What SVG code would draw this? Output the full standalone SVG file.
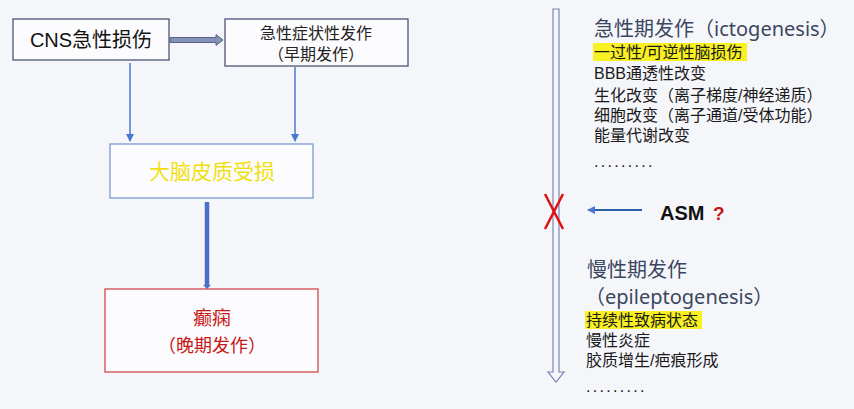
<svg xmlns="http://www.w3.org/2000/svg" width="854" height="409" viewBox="0 0 854 409">
<style>
text{font-family:"Liberation Sans","Noto Sans CJK SC",sans-serif}
.box{fill:#fcfcfe;stroke:#4a5578;stroke-width:1.3}
.blue{stroke:#4a78d0;stroke-width:1.5;fill:none}
.t{font-size:16px;fill:#1a1a1a}
.h{font-family:"Noto Sans","Noto Sans CJK SC",sans-serif;font-size:20px;fill:#3b4660}
.dots{font-size:16px;fill:#1a1a1a;letter-spacing:2.3px}
</style>
<defs>
<marker id="ah" markerWidth="8" markerHeight="8" refX="7" refY="4" orient="auto" markerUnits="userSpaceOnUse">
<path d="M0,0 L8,4 L0,8 z" fill="#4a78d0"/>
</marker>
</defs>
<rect width="854" height="409" fill="#f5f6fa"/>
<g id="connectors">
<path d="M170,37.5 L216,37.5 L216,34.5 L223,40 L216,45.5 L216,42.5 L170,42.5 Z" fill="#8391b5" stroke="#56648c" stroke-width="1"/>
<line x1="130" y1="63" x2="130" y2="141" class="blue" marker-end="url(#ah)"/>
<line x1="295" y1="67" x2="295" y2="141" class="blue" marker-end="url(#ah)"/>
<line x1="207" y1="202" x2="207" y2="286" stroke="#4a70c8" stroke-width="4.5"/>
<path d="M203,285 L211,285 L207,289 Z" fill="#4a70c8"/>
<line x1="642" y1="210" x2="588" y2="210" stroke="#2d5fa8" stroke-width="2" marker-end="url(#ah)"/>
</g>
<g id="n-cns">
<rect class="box" x="13" y="19" width="156" height="41"/>
<text x="91" y="47" text-anchor="middle" font-size="20" fill="#111">CNS急性损伤</text>
</g>
<g id="n-acute">
<rect class="box" x="225" y="19" width="183" height="47"/>
<text x="316" y="39" text-anchor="middle" font-size="16" fill="#222">急性症状性发作</text>
<text x="316" y="60" text-anchor="middle" font-size="16" fill="#222">（早期发作）</text>
</g>
<g id="n-cortex">
<rect x="110" y="144" width="203" height="54" fill="#fcfcfe" stroke="#7a9ad0" stroke-width="1.3"/>
<text x="212" y="179" text-anchor="middle" font-size="21" fill="#f0e010">大脑皮质受损</text>
</g>
<g id="n-epilepsy">
<rect x="105" y="289" width="213" height="83" fill="#fcfcfe" stroke="#d04a4a" stroke-width="1.3"/>
<text x="212" y="325" text-anchor="middle" font-size="19" fill="#c81818">癫痫</text>
<text x="212" y="352" text-anchor="middle" font-size="18" fill="#c81818">（晚期发作）</text>
</g>
<g id="timeline">
<path d="M553,9 L559,9 L559,372 L564,372 L556,382 L548,372 L553,372 Z" fill="#f5f6fa" stroke="#7a85b8" stroke-width="1.2"/>
<path d="M545,194 L563,229 M563,194 L545,229" stroke="#e01010" stroke-width="2.5"/>
</g>
<g id="asm">
<text x="660" y="220" font-size="20" font-weight="bold" fill="#111">ASM</text>
<text x="713" y="220" font-size="19" font-weight="bold" fill="#c81818">?</text>
</g>
<g id="acute-phase">
<text class="h" x="594" y="36">急性期发作（ictogenesis）</text>
<rect x="593" y="43" width="154" height="18" fill="#f8f020"/>
<text class="t" x="594" y="58">一过性/可逆性脑损伤</text>
<text class="t" x="594" y="79">BBB通透性改变</text>
<text class="t" x="594" y="101">生化改变（离子梯度/神经递质）</text>
<text class="t" x="594" y="121">细胞改变（离子通道/受体功能）</text>
<text class="t" x="594" y="141">能量代谢改变</text>
<text class="dots" x="594" y="167">.........</text>
</g>
<g id="chronic-phase">
<text class="h" x="587" y="277">慢性期发作</text>
<text class="h" x="585" y="304">（epileptogenesis）</text>
<rect x="585" y="311" width="117" height="18" fill="#f8f020"/>
<text class="t" x="586" y="326">持续性致病状态</text>
<text class="t" x="586" y="346">慢性炎症</text>
<text class="t" x="586" y="366">胶质增生/疤痕形成</text>
<text class="dots" x="586" y="392">.........</text>
</g>
</svg>
